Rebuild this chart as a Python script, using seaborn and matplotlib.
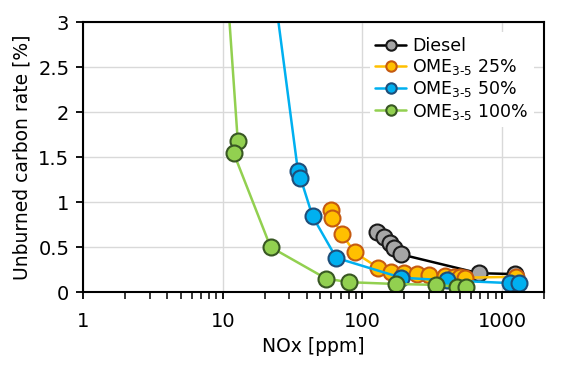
import matplotlib
matplotlib.use("Agg")
import matplotlib.pyplot as plt
import seaborn as sns

# NOx [ppm] vs unburned carbon rate [%] per fuel
diesel_nox = [128, 143, 157, 168, 188, 680, 1240]
diesel_uc = [0.67, 0.61, 0.55, 0.49, 0.42, 0.21, 0.20]

ome25_nox = [60, 61, 71, 88, 130, 160, 200, 245, 300, 390, 455, 500, 540, 1250]
ome25_uc = [0.91, 0.82, 0.65, 0.44, 0.27, 0.22, 0.21, 0.20, 0.19, 0.18, 0.17, 0.17, 0.16, 0.17]

ome50_nox = [17, 34.5, 36, 44, 65, 190, 405, 1150, 1330]
ome50_uc = [5.0, 1.35, 1.27, 0.84, 0.38, 0.16, 0.13, 0.10, 0.10]

ome100_nox = [9.1, 12.8, 12.0, 22, 55, 80, 175, 337, 480, 550]
ome100_uc = [5.0, 1.68, 1.54, 0.50, 0.15, 0.11, 0.09, 0.08, 0.06, 0.06]

ome_label = "OME$_{3\u20105}$"
series = [
    ("Diesel", diesel_nox, diesel_uc, "black", "#A6A6A6", "#1a1a1a"),
    (ome_label + " 25%", ome25_nox, ome25_uc, "#FFC000", "#FFC000", "#C55A11"),
    (ome_label + " 50%", ome50_nox, ome50_uc, "#00B0F0", "#00B0F0", "#1F4E79"),
    (ome_label + " 100%", ome100_nox, ome100_uc, "#92D050", "#92D050", "#385723"),
]

sns.set_theme(style="ticks")
plt.rcParams["font.family"] = ["DejaVu Sans"]
plt.rcParams["mathtext.default"] = "regular"
plt.rcParams["text.color"] = "black"
plt.rcParams["axes.labelcolor"] = "black"

fig = plt.figure(figsize=(5.62, 3.74), dpi=100)
ax = fig.add_axes([0.148, 0.219, 0.82, 0.722])

for label, x, y, line_c, face_c, edge_c in series:
    sns.lineplot(x=x, y=y, ax=ax, sort=False, estimator=None, label=label,
                 color=line_c, linewidth=1.8, marker="o", markersize=11.5,
                 markerfacecolor=face_c, markeredgecolor=edge_c, markeredgewidth=1.5)

ax.set_xscale("log")
ax.set_xlim(1, 2000)
ax.set_ylim(0, 3)
ax.set_yticks([0, 0.5, 1, 1.5, 2, 2.5, 3])
ax.set_yticklabels(["0", "0.5", "1", "1.5", "2", "2.5", "3"])
ax.set_xticks([1, 10, 100, 1000])
ax.set_xticklabels(["1", "10", "100", "1000"])
ax.grid(True, which="major", color="#D9D9D9", linewidth=1)
ax.set_axisbelow(True)

for side in ["left", "right", "top", "bottom"]:
    ax.spines[side].set_visible(True)
    ax.spines[side].set_color("black")
    ax.spines[side].set_linewidth(1.5)
    ax.spines[side].set_zorder(6)

ax.tick_params(axis="both", which="major", direction="out", length=5, width=1.3,
               labelsize=14, colors="black", pad=5)
ax.tick_params(axis="x", which="minor", direction="out", length=5, width=1.3)
ax.tick_params(axis="x", which="major", pad=9)

ax.set_xlabel("NOx [ppm]", fontsize=13.5, labelpad=5)
ax.set_ylabel("Unburned carbon rate [%]", fontsize=13.5, labelpad=5)

handles, labels = ax.get_legend_handles_labels()
leg = ax.legend(handles, labels, loc="upper right", bbox_to_anchor=(0.997, 0.995),
                fontsize=12.5, markerscale=0.65, handlelength=1.8, handletextpad=0.35,
                labelspacing=0.12, borderpad=0.3, frameon=True, fancybox=False)
leg.get_frame().set_facecolor("white")
leg.get_frame().set_edgecolor("none")
leg.get_frame().set_alpha(1)

fig.savefig("out.png", dpi=100)
